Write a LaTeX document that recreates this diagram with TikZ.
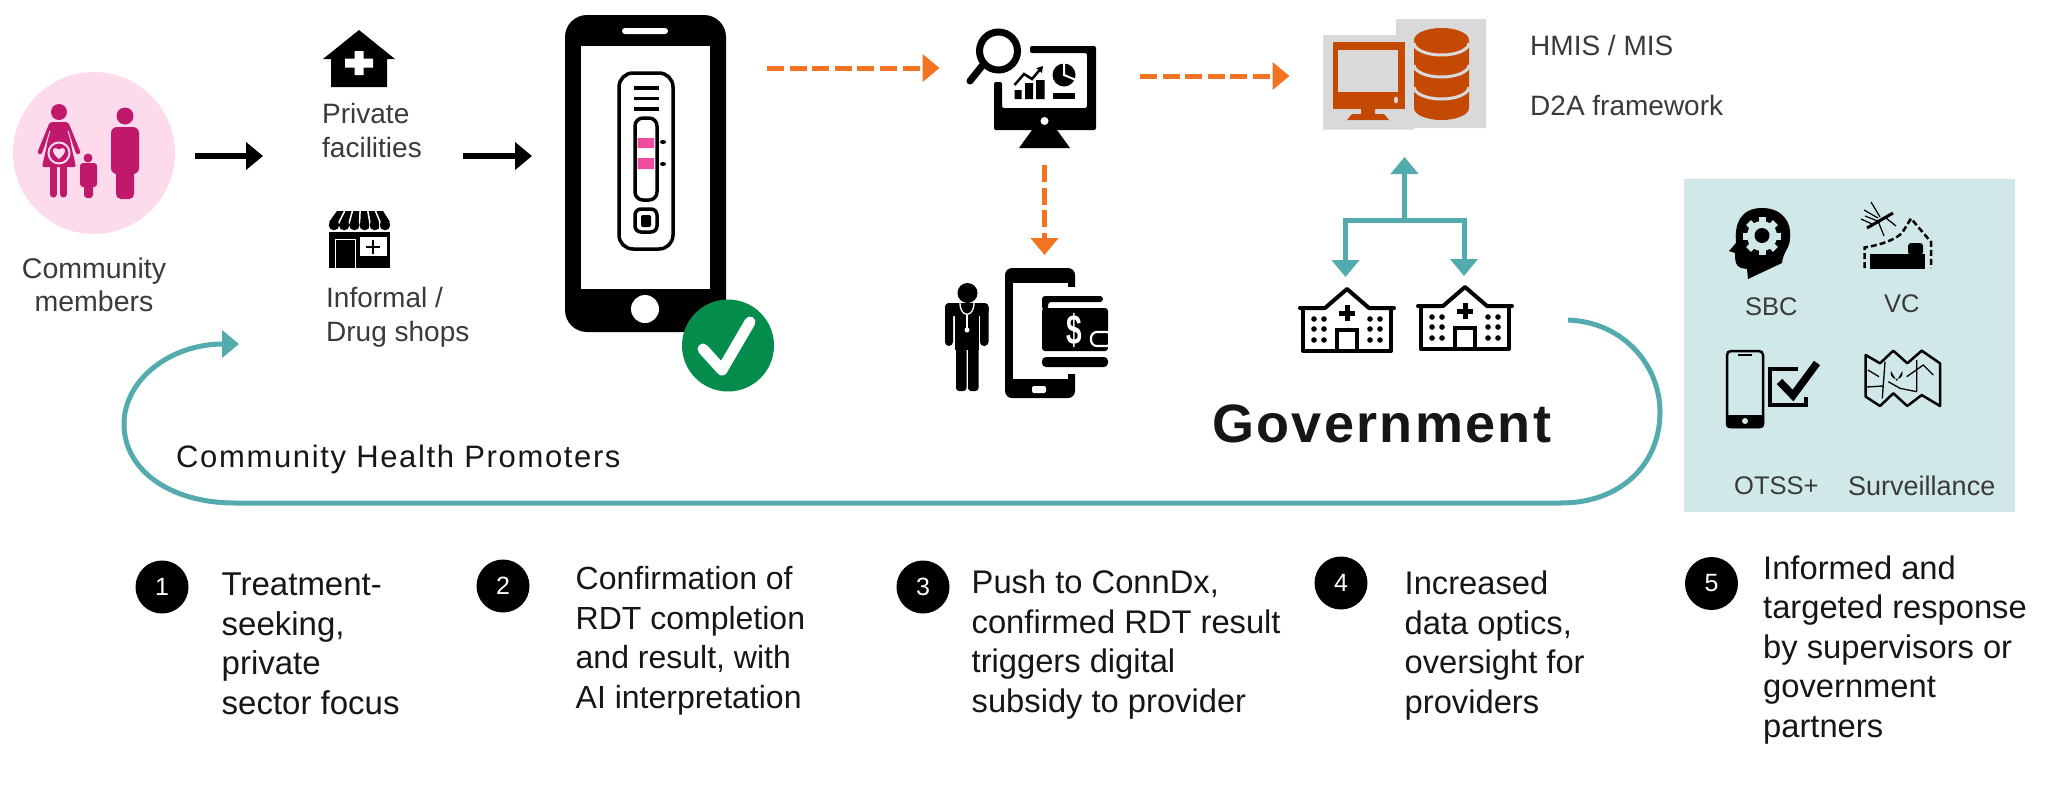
\documentclass[tikz,border=0pt]{standalone}
\usepackage{fontspec}
\setmainfont{Liberation Sans}
\usepackage{xcolor}
\usepackage{graphicx}
\usetikzlibrary{calc, positioning, arrows.meta}
\definecolor{pinkbg}{HTML}{FDDBEC}
\definecolor{magentafig}{HTML}{C0186A}
\definecolor{testpink}{HTML}{F04CA0}
\definecolor{okgreen}{HTML}{038C4C}
\definecolor{flow}{HTML}{F47321}
\definecolor{dbfill}{HTML}{C44A04}
\definecolor{dbgrey}{HTML}{D9D9D9}
\definecolor{loopteal}{HTML}{54ABAD}
\definecolor{boxteal}{HTML}{D0E9E8}
\definecolor{softtext}{HTML}{3A3A3A}
\definecolor{darktext}{HTML}{161616}

\begin{document}
\begin{tikzpicture}[
  x=1pt, y=-1pt,
  icon/.style={inner sep=0pt, outer sep=0pt},
  lbl/.style={anchor=base west, inner sep=0pt, align=left, text=softtext, font=\fontsize{28}{33.5}\selectfont},
  boxlbl/.style={anchor=base west, inner sep=0pt, text=softtext, font=\fontsize{25.5}{32}\selectfont},
  note/.style={anchor=base west, inner sep=0pt, align=left, text=darktext, font=\fontsize{32.7}{39.5}\selectfont},
  badge/.style={circle, fill=black, text=white, inner sep=0pt, minimum size=53pt, font=\fontsize{25}{30}\selectfont},
  blackarr/.style={-{Triangle[length=17pt, width=27pt]}, line width=6pt},
  flowarr/.style={-{Triangle[length=17pt, width=27pt]}, flow, line width=5pt, dash pattern=on 17pt off 5.6pt},
  tealarr/.style={-{Triangle[length=17pt, width=27pt]}, loopteal, line width=5pt},
  hospicon/.pic={
    \draw[line width=4pt, line join=round, line cap=round] (-47,-13) -- (-22,-13) -- (0,-32) -- (22,-13) -- (47,-13);
    \draw[line width=4pt, line join=round, line cap=round] (-44,-13) -- (-44,30) -- (44,30) -- (44,-13);
    \draw[line width=4pt] (-10,30) -- (-10,9) -- (10,9) -- (10,30);
    \draw[line width=5pt] (-8,-8) -- (8,-8) (0,-16) -- (0,0);
    \foreach \dx in {-33,-23,23,33}
      \foreach \dy in {-2,8,19}
        \fill (\dx,\dy) circle (2.8);
  }
]
\useasboundingbox (0,0) rectangle (2048,796);

\node[circle, fill=pinkbg, inner sep=0pt, minimum size=162pt] (comm) at (94,153) {};
\fill[magentafig] (59,112) circle (8);
\fill[magentafig, rounded corners=2pt] (50,122) -- (68,122) -- (71,145) -- (76,167) -- (42,167) -- (47,145) -- cycle;
\draw[magentafig, line width=4.5pt, line cap=round] (51,125) -- (40,152) (67,125) -- (78,152);
\draw[pinkbg, line width=1pt] (50,131) -- (44,150) (68,131) -- (74,150);
\draw[magentafig, line width=7pt, line cap=round] (53.5,168) -- (53.5,194) (63.5,168) -- (63.5,194);
\filldraw[fill=magentafig, draw=pinkbg, line width=2pt] (59,153) circle (10.5);
\fill[pinkbg] (59,159) .. controls (50,152) and (52,145) .. (59,149.5) .. controls (66,145) and (68,152) .. (59,159);
\fill[magentafig] (88,158) circle (4.5);
\fill[magentafig, rounded corners=3pt] (80,163) rectangle (97,187);
\fill[magentafig, rounded corners=3pt] (84,180) rectangle (93,198);
\fill[magentafig] (125,116) circle (8.5);
\fill[magentafig, rounded corners=6pt] (111,127) rectangle (139,174);
\fill[magentafig, rounded corners=5pt] (116,165) rectangle (134,199);
\node[lbl, anchor=center, align=center, font=\fontsize{28.5}{33.5}\selectfont] (commlbl) at (94,285) {Community\\members};

\node[icon, minimum width=141pt, minimum height=340pt] (fac) at (392.5,156) {};
\fill (359,30) -- (395,59) -- (387,59) -- (387,87) -- (331,87) -- (331,59) -- (323,59) -- cycle;
\fill[white] (354.5,51) rectangle (363.5,75) (345,58.5) rectangle (373,67.5);
\node[lbl] (privlbl) at (322,157) {Private\\facilities};
\fill (337,211) -- (383,211) -- (390,222) -- (329,222) -- cycle;
\foreach \i in {0,...,5} {
  \fill (334+\i*10.2,225) circle (5.3);
  \draw[white, line width=1pt] (339.1+\i*10.2,222) -- (339.1+\i*10.2,229);
}
\foreach \i in {1,...,5}
  \draw[white, line width=1.5pt] (329+\i*10.2,222) -- (337+\i*7.7,211);
\fill (329,232) rectangle (390,268);
\draw[white, line width=1pt] (335,268) -- (335,239) -- (355,239) -- (355,268);
\fill[white] (360,237) rectangle (387,256);
\draw[line width=2pt] (366,247) -- (380,247) (373,240) -- (373,254);
\node[lbl] (shoplbl) at (326,341) {Informal /\\Drug shops};

\node[icon, fill=black, rounded corners=22pt, minimum width=161pt, minimum height=317pt] (phone) at (645.5,173.5) {};
\fill[white] (581,46) rectangle (710,289);
\fill[white, rounded corners=3pt] (622,28) rectangle (668,34);
\fill[white] (645,309) circle (14);
\draw[line width=3.5pt, rounded corners=14pt] (619,73) rectangle (673,249);
\draw[line width=3.5pt] (634,88) -- (659,88) (634,98.5) -- (659,98.5) (634,109) -- (659,109);
\fill[testpink] (637.5,138) rectangle (654,148) (637.5,158) rectangle (654,169);
\draw[line width=3.5pt, rounded corners=8pt] (635,118) rectangle (657,200);
\fill (663,142) ellipse (3 and 2) (663,164) ellipse (3 and 2);
\draw[line width=3.5pt, rounded corners=6pt] (635,209) rectangle (657,232);
\fill[rounded corners=2pt] (641,215) rectangle (651,227);
\node[circle, fill=okgreen, inner sep=0pt, minimum size=92pt] (okmark) at (728,345.5) {};
\draw[white, line width=11pt, line cap=round, line join=round] (703,349) -- (722,370) -- (750,322);

\node[icon, minimum width=127pt, minimum height=119pt] (mon) at (1032.5,88.5) {};
\fill[rounded corners=2pt] (1030,46) -- (1096,46) -- (1096,130) -- (994,130) -- (994,82) -- (1002,82) -- (1002,108) -- (1087,108) -- (1087,53) -- (1030,53) -- cycle;
\fill (1032,130) -- (1057,130) -- (1070,148) -- (1019,148) -- cycle;
\fill[white] (1044.5,121) circle (4);
\draw[line width=7pt] (998.5,51) circle (19);
\draw[line width=7pt, line cap=round] (982,66) -- (970,81);
\fill (1014.5,90) rectangle (1021.5,99) (1025,83) rectangle (1033,99) (1036,80) rectangle (1044.5,99);
\draw[line width=2.5pt, -{Triangle[length=6pt, width=7pt]}] (1014.5,85) -- (1024,74) -- (1032,79) -- (1043,66);
\fill (1064,75) circle (11.5);
\draw[white, line width=2pt] (1064,63) -- (1064,75) -- (1076,80);
\fill (1053,93) rectangle (1075,99);

\node[icon, minimum width=163pt, minimum height=130pt] (wallet) at (1026.5,333) {};
\fill (967.5,293) circle (10);
\fill[rounded corners=4pt] (945,303) rectangle (953,346);
\fill[rounded corners=4pt] (980,303) rectangle (988.5,346);
\fill[rounded corners=4pt] (945,303) rectangle (988.5,316);
\fill (955,310) rectangle (979,350);
\fill[rounded corners=3pt] (956,340) rectangle (966.5,391);
\fill[rounded corners=3pt] (968,340) rectangle (978.5,391);
\draw[white, line width=1.3pt] (960,303) .. controls (960,318) and (974,318) .. (974,303);
\draw[white, line width=1.3pt] (967,315) -- (967,328);
\fill[white] (967,330) circle (2.5);
\fill[rounded corners=7pt] (1005,268) rectangle (1075,398);
\fill[white] (1012.5,283) rectangle (1068,379);
\fill[white] (1060,287) rectangle (1076,374);
\fill[white, rounded corners=2pt] (1032,386) rectangle (1046,393);
\fill[rounded corners=3pt] (1042,296) -- (1103,296) -- (1103,302) -- (1048,302) -- (1048,310) -- (1042,310) -- cycle;
\fill[rounded corners=3pt] (1042,308) rectangle (1108,351);
\fill[rounded corners=4pt] (1042,357) rectangle (1108,367);
\node[icon, text=white, font=\fontsize{28}{30}\bfseries\selectfont] (dollar) at (1074.5,330) {\scalebox{1}[1.5]{\$}};
\filldraw[fill=black, draw=white, line width=2.2pt, rounded corners=6pt] (1091,332) rectangle (1112,346);
\fill[white] (1108,329) rectangle (1114,350);

\node[icon, minimum width=164pt, minimum height=111pt] (db) at (1404.5,74.5) {};
\fill[dbgrey] (1323,35) rectangle (1414,129.5) (1396,19) rectangle (1486,128);
\fill[dbfill] (1332.5,41.5) rectangle (1404.5,109);
\fill[dbgrey] (1338,50) rectangle (1398,92);
\fill[dbgrey] (1396,100) ellipse (2 and 3.5);
\fill[dbfill] (1361,109) rectangle (1375,114) (1347,120) -- (1352,114) -- (1384,114) -- (1389,120) -- cycle;
\fill[dbfill] (1414,40) -- (1414,108) arc[start angle=180, end angle=0, x radius=27.5, y radius=12] -- (1469,40) arc[start angle=0, end angle=-180, x radius=27.5, y radius=12] -- cycle;
\foreach \cy in {43,65,87}
  \draw[dbgrey, line width=3pt] (1414,\cy) arc[start angle=180, end angle=0, x radius=27.5, y radius=12];
\node[boxlbl, font=\fontsize{28}{32}\selectfont] (hmis) at (1530,55) {HMIS / MIS};
\node[boxlbl, font=\fontsize{28}{32}\selectfont] (d2a) at (1530,115) {D2A framework};

\pic (hospa) at (1347,321) {hospicon};
\pic (hospb) at (1465,319) {hospicon};
\node[icon, minimum width=96pt, minimum height=66pt] (hosp1) at (1345.5,321) {};
\node[icon, minimum width=96pt, minimum height=66pt] (hosp2) at (1464,320) {};
\coordinate (branch) at (1404.5,220);
\draw[tealarr] (branch) -| ([yshift=11pt]hosp1.north);
\draw[tealarr] (branch) -| ([yshift=11pt]hosp2.north);
\draw[tealarr] ([yshift=-2.5pt]branch) -- ([yshift=-27pt]db.south);
\node[anchor=base west, inner sep=0pt, text=darktext, font=\fontsize{54}{62}\bfseries\selectfont\addfontfeatures{LetterSpace=4.3}] (gov) at (1212,442) {Government};

\node[lbl, font=\fontsize{31}{34}\selectfont\addfontfeatures{LetterSpace=5.3}, text=darktext] (chp) at (176,467) {Community Health Promoters};
\coordinate (loopend) at (239,344);
\draw[tealarr] ([xshift=56pt]hosp2.east) .. controls (1623,322) and (1660,365) .. (1660,412) .. controls (1660,465) and (1620,503) .. (1561,503) -- (235,503) .. controls (170,503) and (124,470) .. (124,424) .. controls (124,380) and (170,344) .. (loopend);

\node[icon, fill=boxteal, minimum width=331pt, minimum height=333pt] (svcbox) at (1849.5,345.5) {};
\fill (1736,243) .. controls (1734,222) and (1742,208) .. (1762,208) .. controls (1782,208) and (1792,222) .. (1790,238) .. controls (1790,248) and (1783,252) .. (1782,263) -- (1748,279) -- (1747,269) -- (1741,268) .. controls (1735,266) and (1735,260) .. (1735,253) -- (1729,251) -- cycle;
\foreach \a in {0,45,...,315}
  \fill[boxteal, shift={(1762,236)}, rotate=\a] (-3.5,-19) rectangle (3.5,0);
\fill[boxteal] (1762,236) circle (15);
\fill (1762,235.5) circle (7.5);
\node[boxlbl] (sbc) at (1745,315) {SBC};
\draw[line width=3pt] (1867,228) -- (1893,213);
\draw[line width=1.2pt] (1864,210) -- (1878,218) (1871,202) -- (1880,217) (1878,221) -- (1884,236) (1886,218) -- (1896,226) (1872,224) -- (1861,219) (1865,216) -- (1880,222);
\draw[line width=2.5pt, dash pattern=on 6pt off 3pt] (1864.5,268) -- (1864.5,247.5) .. controls (1880,245) and (1895,240) .. (1902,233) -- (1911,218.5) -- (1931,242) -- (1931,268);
\fill (1870,253.5) rectangle (1925,268.5);
\fill[rounded corners=3pt] (1908,243) rectangle (1923,255);
\node[boxlbl] (vc) at (1884,312) {VC};
\draw[line width=2.5pt, rounded corners=4pt] (1727,351) rectangle (1763,427);
\fill[rounded corners=3pt] (1726,415) rectangle (1764,428);
\fill[boxteal] (1745,421) circle (3);
\draw[line width=1.5pt] (1738,355) -- (1752,355);
\draw[line width=4pt] (1798,368.5) -- (1770,368.5) -- (1770,405) -- (1806,405) -- (1806,396.5);
\draw[line width=7.5pt] (1779.5,381.5) -- (1793,395.5) -- (1817,363);
\draw[line width=2.5pt, line join=round] (1865.7,355) -- (1880,363.3) -- (1893.3,350.7) -- (1907.3,363.3) -- (1921.7,350.7) -- (1940,363.3) -- (1940,406) -- (1921.7,395) -- (1907.3,406) -- (1893.3,393.3) -- (1880,406) -- (1865.7,396.7) -- cycle;
\draw[line width=1.3pt] (1868,370) -- (1879,376.7) (1885,361.7) -- (1882.3,398.3) (1867,387) -- (1883,386) (1888.3,381.7) -- (1900,388.3) -- (1916.7,391.7) (1906.7,376.7) -- (1923.3,365) -- (1933.3,375) (1916.7,360) -- (1916.7,391.7);
\fill (1896.7,381) -- (1891,371) arc[start angle=-160, end angle=-380, radius=6] -- cycle;
\fill[boxteal] (1896.7,368) circle (2);
\node[boxlbl] (otss) at (1734,494) {OTSS+};
\node[boxlbl, font=\fontsize{27}{32}\selectfont] (surv) at (1848,495) {Surveillance};

\node[badge] (n1) at (162,587) {1};
\node[badge] (n2) at (503,586) {2};
\node[badge] (n3) at (923,587) {3};
\node[badge] (n4) at (1341,583) {4};
\node[badge] (n5) at (1711.5,583.5) {5};
\node[note, font=\fontsize{33}{39.5}\selectfont] (t1) at (221.5,714) {Treatment-\\seeking,\\private\\sector focus};
\node[note, font=\fontsize{32}{39.5}\selectfont] (t2) at (575.5,708) {Confirmation of\\RDT completion\\and result, with\\AI interpretation};
\node[note] (t3) at (971.5,712) {Push to ConnDx,\\confirmed RDT result\\triggers digital\\subsidy to provider};
\node[note] (t4) at (1404.5,713) {Increased\\data optics,\\oversight for\\providers};
\node[note] (t5) at (1763,737) {Informed and\\targeted response\\by supervisors or\\government\\partners};

\draw[blackarr] ([xshift=20pt]comm.east |- fac.west) -- ([xshift=-59pt]fac.west);
\draw[blackarr] (fac.east) -- ([xshift=-33pt]phone.west |- fac.east);
\draw[flowarr] ([xshift=41pt,yshift=105.5pt]phone.east) -- ([xshift=-29.5pt,yshift=20.5pt]mon.west);
\draw[flowarr] ([xshift=12pt,yshift=-17pt]mon.south) -- ([xshift=18pt,yshift=13pt]wallet.north);
\draw[flowarr] ([xshift=44pt,yshift=12.5pt]mon.east) -- ([xshift=-33pt,yshift=-1.5pt]db.west);
\end{tikzpicture}
\end{document}
